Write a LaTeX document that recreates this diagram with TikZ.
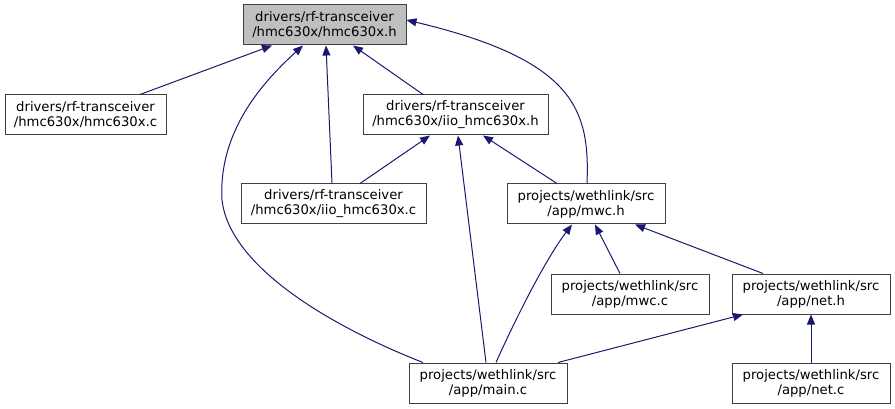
\documentclass[tikz,border=0pt]{standalone}
\usepackage{fontspec}
\setmainfont{DejaVu Sans}
\usetikzlibrary{arrows.meta}
\definecolor{edgeblue}{HTML}{191970}
\definecolor{boxline}{HTML}{404040}
\definecolor{topfill}{HTML}{BFBFBF}
\tikzset{
  filebox/.style={draw=boxline, line width=1pt, fill=white, inner sep=0pt,
    minimum height=40pt, align=center, font=\fontsize{13.2}{15}\selectfont},
  edge/.style={draw=edgeblue, line width=1pt, -{Triangle[length=10pt,width=8pt]}}
}
\begin{document}
\begin{tikzpicture}[x=1pt,y=-1pt]
\useasboundingbox (0,0) rectangle (895,409);
\node[filebox, fill=topfill, minimum width=163pt] (top) at (324.5,25) {drivers/rf-transceiver\\/hmc630x/hmc630x.h};
\node[filebox, minimum width=161pt] (hc) at (85.5,115) {drivers/rf-transceiver\\/hmc630x/hmc630x.c};
\node[filebox, minimum width=185pt] (iioh) at (455.5,115) {drivers/rf-transceiver\\/hmc630x/iio\_hmc630x.h};
\node[filebox, minimum width=185pt] (iioc) at (333.5,204) {drivers/rf-transceiver\\/hmc630x/iio\_hmc630x.c};
\node[filebox, minimum width=158pt] (mwch) at (586,204) {projects/wethlink/src\\/app/mwc.h};
\node[filebox, minimum width=158pt] (mwcc) at (630,294) {projects/wethlink/src\\/app/mwc.c};
\node[filebox, minimum width=158pt] (neth) at (811,294) {projects/wethlink/src\\/app/net.h};
\node[filebox, minimum width=158pt] (mainc) at (488,383) {projects/wethlink/src\\/app/main.c};
\node[filebox, minimum width=158pt] (netc) at (811,383) {projects/wethlink/src\\/app/net.c};

\draw[edge] ([xshift=54.5pt]hc.north) -- ([xshift=-52.5pt]top.south);
\draw[edge] ([xshift=-1.5pt]iioc.north) -- ([xshift=1.5pt]top.south);
\draw[edge] ([xshift=-65pt]mainc.north) .. controls (340,330) and (230,270) .. (222,200)
   .. controls (218,130) and (265,80) .. ([xshift=-21.5pt]top.south);
\draw[edge] ([xshift=-32.5pt]iioh.north) -- ([xshift=28.5pt]top.south);
\draw[edge] ([xshift=1pt]mwch.north) .. controls (590,110) and (575,60) .. ([yshift=5pt]top.east);
\draw[edge] ([xshift=26.5pt]iioc.north) -- ([xshift=-25.5pt]iioh.south);
\draw[edge] ([xshift=-2pt]mainc.north) -- ([xshift=2.5pt]iioh.south);
\draw[edge] ([xshift=-29pt]mwch.north) -- ([xshift=27.5pt]iioh.south);
\draw[edge] ([xshift=8pt]mainc.north) .. controls (515,320) and (545,260) .. ([xshift=-14pt]mwch.south);
\draw[edge] ([xshift=-10pt]mwcc.north) -- ([xshift=9pt]mwch.south);
\draw[edge] ([xshift=-48pt]neth.north) -- ([xshift=49pt]mwch.south);
\draw[edge] ([xshift=70pt]mainc.north) -- ([xshift=-68pt]neth.south);
\draw[edge] (netc.north) -- (neth.south);
\end{tikzpicture}
\end{document}
